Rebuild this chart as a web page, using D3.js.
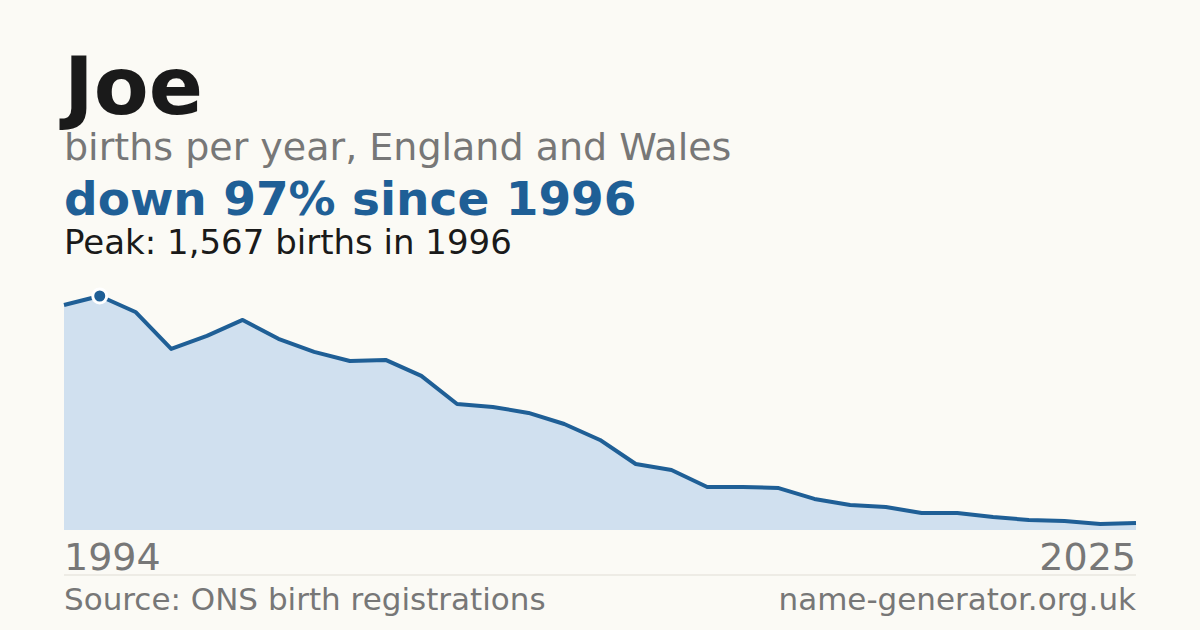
<!DOCTYPE html>
<html><head><meta charset="utf-8">
<script src="https://cdn.jsdelivr.net/npm/d3@7"></script>
<style>body{margin:0;background:#fbfaf5}text{font-family:"DejaVu Sans",sans-serif}</style>
</head><body>
<script>
// births per year
var births = [1507,1567,1460,1213,1300,1407,1280,1193,1132,1139,1032,844,824,784,710,603,442,402,288,288,281,208,167,154,114,114,87,67,60,40,47];
var peakIndex = 1;
var tickLabels = ["1994","2025"];

var svg = d3.select("body").append("svg").attr("width",1200).attr("height",630);
svg.append("rect").attr("width",1200).attr("height",630).attr("fill","#fbfaf5");

var x = d3.scaleLinear().domain([0, births.length-1]).range([64,1136]);
var y = d3.scaleLinear().domain([0,1567]).range([530,296]);

svg.append("path").datum(births)
  .attr("fill","#d0e0ef")
  .attr("d", d3.area().x((d,i)=>x(i)).y0(530).y1(d=>y(d)));
svg.append("path").datum(births)
  .attr("fill","none").attr("stroke","#1f5f96").attr("stroke-width",4).attr("stroke-linejoin","round")
  .attr("d", d3.line().x((d,i)=>x(i)).y(d=>y(d)));
svg.append("circle").attr("cx",x(peakIndex)).attr("cy",y(births[peakIndex])).attr("r",7)
  .attr("fill","#1f5f96").attr("stroke","#fff").attr("stroke-width",3);

function t(txt,xx,yy,size,col,weight,anchor){
  svg.append("text").attr("x",xx).attr("y",yy).attr("font-size",size).attr("fill",col)
    .attr("font-weight",weight||"normal").attr("text-anchor",anchor||"start").text(txt);
}
t("Joe",64,114,80,"#1a1a1a","bold");
t("births per year, England and Wales",64,160,38,"#777");
t("down 97% since 1996",64,215,47,"#1f5f96","bold");
t("Peak: 1,567 births in 1996",64,254,34,"#1a1a1a");
t(tickLabels[0],64,570,38,"#777");
t(tickLabels[1],1136,570,38,"#777","normal","end");
svg.append("line").attr("x1",64).attr("x2",1136).attr("y1",575).attr("y2",575).attr("stroke","#e0ddd5");
t("Source: ONS birth registrations",64,610,31,"#777");
t("name-generator.org.uk",1136,610,31,"#777","normal","end");
</script>
</body></html>
